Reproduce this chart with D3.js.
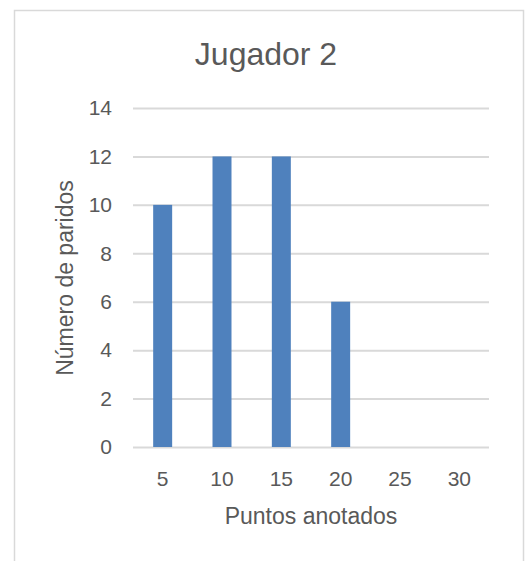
<!DOCTYPE html>
<html>
<head>
<meta charset="utf-8">
<script src="https://cdn.jsdelivr.net/npm/d3@7"></script>
<style>
  body { margin: 0; background: #fff; }
  svg { display: block; }
</style>
</head>
<body>
<div id="content"></div>
<script>
// datos del grafico
const puntos = ["5", "10", "15", "20", "25", "30"];
const partidos = [10, 12, 12, 6, 0, 0];
const y_ticks = [0, 2, 4, 6, 8, 10, 12, 14];

const chart_title = "Jugador 2";
const x_title = "Puntos anotados";
const y_title = "Número de paridos";

const text_color = "#595959";
const grid_color = "#d9d9d9";
const bar_color = "#4f81bd";
const font = "'Liberation Sans', Arial, sans-serif";

const width = 529;
const height = 561;

var svg = d3
    .select("#content")
    .append("svg")
    .attr("width", width)
    .attr("height", height);

// marco del grafico
svg.append("rect")
    .attr("x", 14.5)
    .attr("y", 10.5)
    .attr("width", 509)
    .attr("height", 600)
    .attr("fill", "#fff")
    .attr("stroke", grid_color)
    .attr("stroke-width", 1.5);

var x = d3.scaleBand()
    .domain(puntos)
    .range([133, 489])
    .paddingInner(0.68)
    .paddingOuter(0.34);

var y = d3.scaleLinear()
    .domain([0, 14])
    .range([447, 108]);

// lineas de la cuadricula
var y_axis = svg.append("g")
    .attr("transform", "translate(133,0)")
    .call(d3.axisLeft(y)
        .tickValues(y_ticks)
        .tickSize(-356)
        .tickPadding(21)
        .tickFormat(d3.format("d")));

y_axis.select(".domain").remove();
y_axis.selectAll(".tick line")
    .attr("stroke", grid_color)
    .attr("stroke-width", 2);
y_axis.selectAll(".tick text")
    .attr("fill", text_color)
    .style("font-family", font)
    .style("font-size", "21px");

// barras
svg.append("g")
    .selectAll("rect")
    .data(partidos)
    .enter()
    .append("rect")
    .attr("x", (d, i) => x(puntos[i]))
    .attr("y", d => y(d))
    .attr("width", x.bandwidth())
    .attr("height", d => y(0) - y(d))
    .attr("fill", bar_color);

var x_axis = svg.append("g")
    .attr("transform", "translate(0,447)")
    .call(d3.axisBottom(x).tickSize(0).tickPadding(24));

x_axis.select(".domain").remove();
x_axis.selectAll(".tick text")
    .attr("fill", text_color)
    .style("font-family", font)
    .style("font-size", "21px");

// titulos
svg.append("text")
    .attr("x", 266)
    .attr("y", 65)
    .attr("text-anchor", "middle")
    .attr("fill", text_color)
    .style("font-family", font)
    .style("font-size", "32px")
    .text(chart_title);

svg.append("text")
    .attr("x", 311)
    .attr("y", 524)
    .attr("text-anchor", "middle")
    .attr("fill", text_color)
    .style("font-family", font)
    .style("font-size", "23px")
    .text(x_title);

svg.append("text")
    .attr("transform", "translate(73,278) rotate(-90)")
    .attr("text-anchor", "middle")
    .attr("fill", text_color)
    .style("font-family", font)
    .style("font-size", "23px")
    .text(y_title);
</script>
</body>
</html>
